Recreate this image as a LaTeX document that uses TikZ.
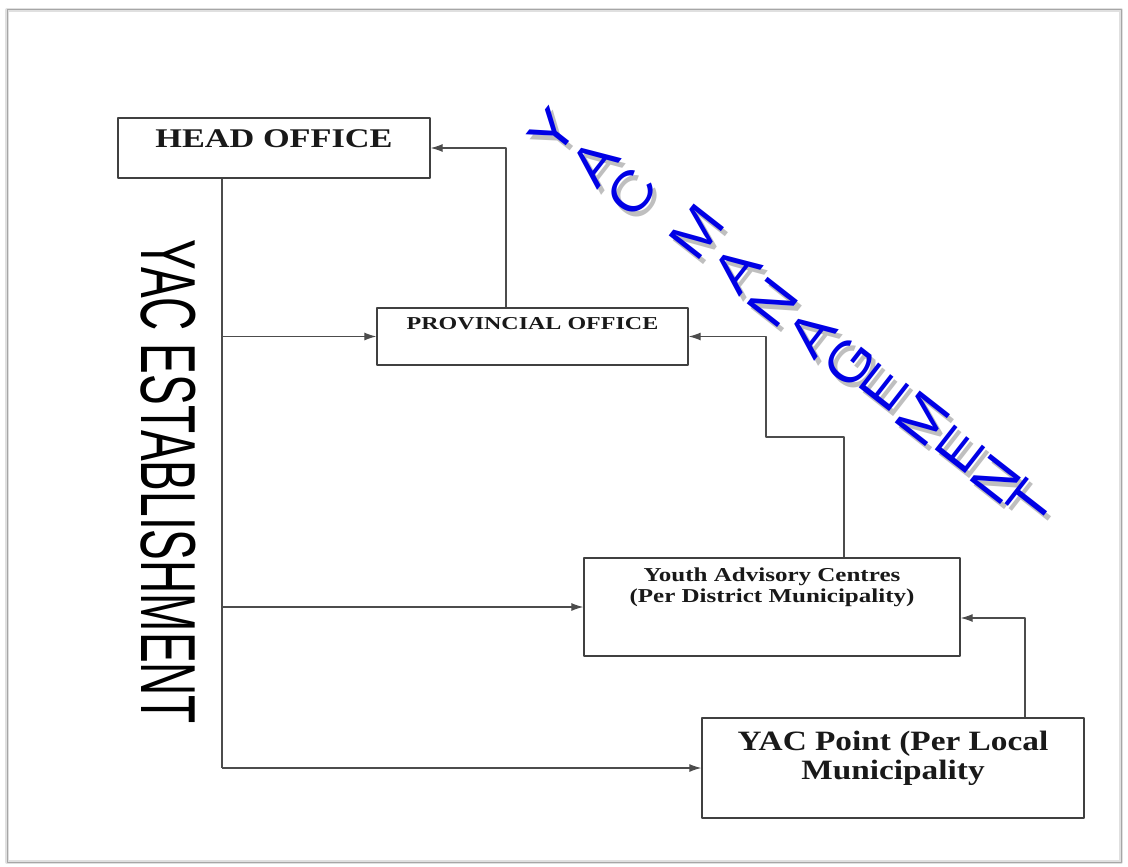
\documentclass[tikz,border=0pt]{standalone}
\usepackage{fontspec}
\setmainfont{Liberation Serif}
\newfontfamily\sansfam{Liberation Sans}
\usepackage{tikz}
\usetikzlibrary{positioning,calc,arrows.meta}

\begin{document}
\begin{tikzpicture}[x=1pt,y=-1pt,line join=round]
		\tikzstyle{unit_box}=[draw=black!75, line width=1.3pt, rectangle, inner sep=0pt];
		\tikzstyle{box_text}=[inner sep=0pt, align=center, text=black!90];
		\tikzstyle{link}=[draw=black!70, line width=1.2pt];
		\tikzstyle{link_arr}=[link, -{Latex[length=12pt,width=8pt]}];
		\tikzstyle{wordart}=[inner sep=0pt, rotate=52, xscale=1.08, font=\sansfam\fontsize{56}{56}\selectfont, text=blue!90!black];
		\tikzstyle{wordart_shadow}=[wordart, text=black!25];

		\useasboundingbox (0,0) rectangle (1128,867);
		\draw[black!12, line width=4pt] (7,10) rectangle (1121,862);
		\draw[black!35, line width=1pt] (7,10) rectangle (1121,862);

		% boxes
		\node[unit_box, minimum width=312, minimum height=60] (head) at (274,148) {};
		\node[unit_box, minimum width=311, minimum height=57] (prov) at (532.5,336.5) {};
		\node[unit_box, minimum width=376, minimum height=98] (youth) at (772,607) {};
		\node[unit_box, minimum width=382, minimum height=100] (point) at (893,768) {};

		\node[box_text, font=\bfseries\fontsize{27}{32}\selectfont, xscale=1.27, below = 12pt of head.north] (head_t) {HEAD OFFICE};
		\node[box_text, font=\bfseries\fontsize{18.2}{22}\selectfont, xscale=1.32, below = 10pt of prov.north] (prov_t) {PROVINCIAL OFFICE};
		\node[box_text, font=\bfseries\fontsize{19.7}{21}\selectfont, xscale=1.27, below = 10pt of youth.north] (youth_t) {Youth Advisory Centres\\(Per District Municipality)};
		\node[box_text, font=\bfseries\fontsize{28}{29}\selectfont, xscale=1.19, below = 14pt of point.north] (point_t) {YAC Point (Per Local\\Municipality};

		\node[inner sep=0pt, font=\sansfam\fontsize{78}{78}\selectfont, rotate=-90, xscale=0.59] (estab) at (168,482) {YAC ESTABLISHMENT};

		% links
		\coordinate (trunk) at (222,768);
		\coordinate (bend) at (766,437);
		\draw[link] (head.south -| trunk) -- (trunk);
		\draw[link_arr] (trunk |- prov.west) -- (prov.west);
		\draw[link_arr] (trunk |- youth.west) -- (youth.west);
		\draw[link_arr] (trunk) -- (point.west);
		\draw[link_arr] ([xshift=-26.5pt]prov.north) |- (head.east);
		\draw[link_arr] ([xshift=72pt]youth.north) |- (bend) |- (prov.east);
		\draw[link_arr] ([xshift=132pt]point.north) |- ([yshift=-11pt]youth.east);

		% word art
		\foreach \ch/\px/\py [count=\i] in {Y/553/132, A/595/163, C/632/192, M/697/232, A/737/270, N/773/302, A/812/334, G/850/362, E/884/388, M/923/419, E/960/450, N/996/479, T/1031/502}
			\node[wordart_shadow] (ws\i) at (\px+4,\py+5) {\ch};
		\foreach \ch/\px/\py [count=\i] in {Y/553/132, A/595/163, C/632/192, M/697/232, A/737/270, N/773/302, A/812/334, G/850/362, E/884/388, M/923/419, E/960/450, N/996/479, T/1031/502}
			\node[wordart] (w\i) at (\px,\py) {\ch};

\end{tikzpicture}
\end{document}
